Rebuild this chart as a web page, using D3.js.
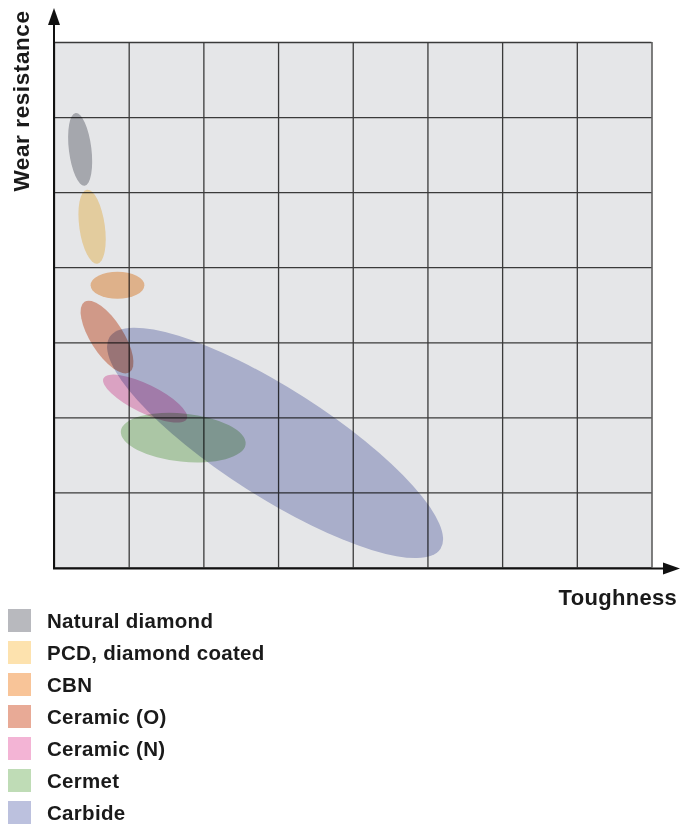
<!DOCTYPE html>
<html>
<head>
<meta charset="utf-8">
<script src="https://cdn.jsdelivr.net/npm/d3@7"></script>
<style>
  body { margin: 0; background: #fff; }
  text { font-family: "Liberation Sans", Arial, Helvetica, sans-serif; font-weight: bold; fill: #1a1a1a; }
</style>
</head>
<body>
<div id="chart"></div>
<script>
// tool materials and the region each one occupies (grid units)
const materials = ["Natural diamond", "PCD, diamond coated", "CBN", "Ceramic (O)", "Ceramic (N)", "Cermet", "Carbide"];
const colors = ["#b8b9be", "#fde2ae", "#f8c498", "#e8aa96", "#f3b4d5", "#bfdcb6", "#bcc1de"];
const toughness = [0.35, 0.51, 0.85, 0.71, 1.22, 1.73, 2.96];     // centre, x
const wearResistance = [5.57, 4.54, 3.76, 3.07, 2.25, 1.73, 1.66]; // centre, y
const spreadMajor = [0.49, 0.50, 0.36, 0.56, 0.62, 0.84, 2.63];
const spreadMinor = [0.15, 0.17, 0.18, 0.22, 0.19, 0.32, 0.72];
const tilt = [83, 82, 0, 57.5, 26, 6, 32.6]; // degrees, clockwise on screen

const xCells = 8, yCells = 7;

var W = 681, H = 825;
var svg = d3.select("#chart")
  .append("svg")
  .attr("width", W)
  .attr("height", H);

// plot box (note: "top" is taken by window.top)
var pLeft = 54, pRight = 651.5, pTop = 42, pBottom = 567.5;

var x = d3.scaleLinear().domain([0, xCells]).range([pLeft, pRight]);
var y = d3.scaleLinear().domain([0, yCells]).range([pBottom, pTop]);

// plot background
svg.append("rect")
  .attr("x", pLeft).attr("y", pTop)
  .attr("width", pRight - pLeft).attr("height", pBottom - pTop)
  .attr("fill", "#e5e6e8");

// gridlines
svg.append("g")
  .attr("transform", "translate(0," + pBottom + ")")
  .call(d3.axisBottom(x).ticks(xCells).tickSize(-(pBottom - pTop)).tickFormat(""))
  .call(g => g.select(".domain").remove())
  .selectAll("line").attr("stroke", "#3a3a3a").attr("stroke-width", 1.3);

svg.append("g")
  .attr("transform", "translate(" + pLeft + ",0)")
  .call(d3.axisLeft(y).ticks(yCells).tickSize(-(pRight - pLeft)).tickFormat(""))
  .call(g => g.select(".domain").remove())
  .selectAll("line").attr("stroke", "#3a3a3a").attr("stroke-width", 1.3);

// material regions
var idx = d3.range(materials.length);
svg.append("g")
  .selectAll("ellipse")
  .data(idx)
  .enter()
  .append("ellipse")
  .attr("cx", 0).attr("cy", 0)
  .attr("rx", i => x(spreadMajor[i]) - x(0))
  .attr("ry", i => y(0) - y(spreadMinor[i]))
  .attr("transform", i => "translate(" + x(toughness[i]) + "," + y(wearResistance[i]) + ") rotate(" + tilt[i] + ")")
  .attr("fill", i => colors[i])
  .style("mix-blend-mode", "multiply");

// axes with arrows
svg.append("line")
  .attr("x1", pLeft).attr("y1", pBottom + 1)
  .attr("x2", pLeft).attr("y2", 20)
  .attr("stroke", "#111").attr("stroke-width", 2);
svg.append("path")
  .attr("d", "M" + (pLeft - 6) + ",25 L" + pLeft + ",8 L" + (pLeft + 6) + ",25 Z")
  .attr("fill", "#111");

svg.append("line")
  .attr("x1", pLeft - 1).attr("y1", pBottom + 1)
  .attr("x2", 668).attr("y2", pBottom + 1)
  .attr("stroke", "#111").attr("stroke-width", 2);
svg.append("path")
  .attr("d", "M663," + (pBottom - 5) + " L680," + (pBottom + 1) + " L663," + (pBottom + 7) + " Z")
  .attr("fill", "#111");

// axis titles
svg.append("text")
  .attr("x", 677).attr("y", 605)
  .attr("text-anchor", "end")
  .style("font-size", "22px")
  .style("letter-spacing", "0.3px")
  .text("Toughness");

svg.append("text")
  .attr("transform", "translate(29,101) rotate(-90)")
  .attr("text-anchor", "middle")
  .style("font-size", "22.5px")
  .style("letter-spacing", "0.6px")
  .text("Wear resistance");

// legend
var legend = svg.append("g");
legend.selectAll("rect")
  .data(idx)
  .enter()
  .append("rect")
  .attr("x", 8)
  .attr("y", i => 609 + i * 32)
  .attr("width", 23).attr("height", 23)
  .attr("fill", i => colors[i]);

legend.selectAll("text")
  .data(idx)
  .enter()
  .append("text")
  .attr("x", 47)
  .attr("y", i => 627.5 + i * 32)
  .style("font-size", "20.5px")
  .style("letter-spacing", "0.3px")
  .text(i => materials[i]);
</script>
</body>
</html>
